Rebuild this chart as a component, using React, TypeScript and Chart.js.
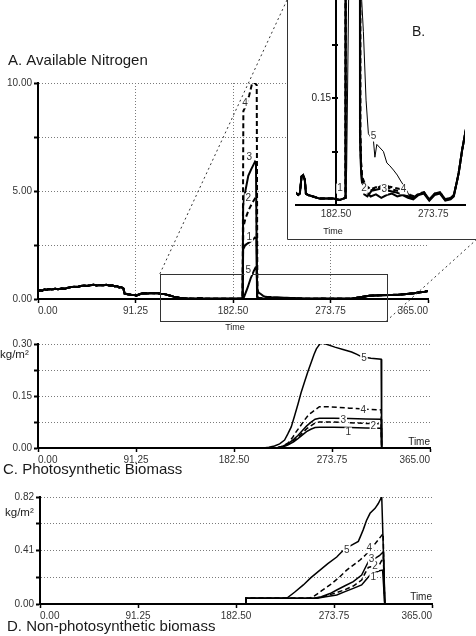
import React, { useEffect, useRef } from 'react';
import { Chart, registerables } from 'chart.js';

Chart.register(...registerables);
Chart.defaults.font.family = '"Liberation Sans", Arial, Helvetica, sans-serif';
Chart.defaults.color = '#333';

type Pt = [number, number];

// ---------- axes ----------
const timeTicks = [0, 91.25, 182.5, 273.75, 365];
const nitrogenTicks = [0, 2.5, 5, 7.5, 10];
const nitrogenLabeled = [0, 5, 10];
const insetTimeTicks = [182.5, 273.75];
const insetNitrogenTicks = [0.075, 0.15, 0.225];
const insetNitrogenLabeled = [0.15];
const photoTicks = [0, 0.075, 0.15, 0.225, 0.3];
const photoLabeled = [0, 0.15, 0.3];
const nonPhotoTicks = [0, 0.205, 0.41, 0.615, 0.82];
const nonPhotoLabeled = [0, 0.41, 0.82];
const seriesNames = ['1', '2', '3', '4', '5'];
const dashedSeries = [false, true, false, true, false];

// ---------- A. Available Nitrogen (time, value) ----------
const nitrogenEarly: Pt[] = [
  [0, 0.36], [2, 0.4], [4, 0.38], [6, 0.45], [8, 0.42], [10, 0.46], [13, 0.44], [16, 0.47], [19, 0.45],
  [22, 0.49], [25, 0.47], [28, 0.52], [31, 0.55], [34, 0.57], [37, 0.56], [40, 0.6], [43, 0.62], [46, 0.6],
  [49, 0.64], [52, 0.66], [55, 0.63], [58, 0.65], [61, 0.64], [64, 0.66], [67, 0.62], [70, 0.62], [72, 0.58],
  [74, 0.6], [76, 0.53], [78, 0.55], [80, 0.48], [81, 0.25], [84, 0.22], [87, 0.2], [90, 0.19], [92, 0.15],
  [94, 0.2], [97, 0.25], [100, 0.27], [103, 0.26], [106, 0.28], [109, 0.27], [112, 0.27], [115, 0.24],
  [118, 0.23], [121, 0.19], [124, 0.15], [127, 0.11], [130, 0.08], [133, 0.05], [136, 0.03], [140, 0.02],
];
const nitrogenPreSpike: Pt[] = [
  [145, 0.017], [147, 0.014], [148.6, 0.016], [150.2, 0.04], [151.7, 0.042], [153.3, 0.035], [154.3, 0.016],
  [156.4, 0.014], [161, 0.012], [167, 0.009], [174, 0.009], [180, 0.009], [186, 0.007], [189.4, 0.009], [191.5, 0.01],
];
const nitrogenSpike1: Pt[] = [[192, 2.3], [194, 2.5], [197, 2.6], [200, 2.7], [203, 2.85], [204.5, 2.8], [205.2, 0.1]];
const nitrogenSpike2: Pt[] = [[192.1, 3.3], [194, 3.7], [197, 4.1], [200, 4.4], [203, 4.65], [204.5, 4.6], [205.2, 0.1]];
const nitrogenSpike3: Pt[] = [[192, 4.3], [193.7, 4.9], [196.8, 5.7], [199.5, 6.0], [201.5, 6.2], [203.1, 6.36], [204, 6.3], [205, 0.1]];
const nitrogenSpike4: Pt[] = [[192.2, 8.7], [195, 9.0], [197.5, 9.4], [200.5, 10], [203, 10], [204.7, 9.9], [205.3, 0.1]];
const nitrogenSpike5: Pt[] = [[192.5, 0.05], [196, 0.5], [199, 0.95], [202, 1.3], [203.5, 1.45], [204.5, 1.4], [205.3, 0.45]];
const nitrogenAfter1: Pt[] = [
  [206, 0.05], [207, 0.03], [210, 0.02], [215, 0.012], [220, 0.015], [225, 0.01], [230, 0.014], [235, 0.016],
  [240, 0.012], [245, 0.014], [250, 0.01], [255, 0.008], [260, 0.014], [265, 0.016], [270, 0.006], [275, 0.014],
  [280, 0.016], [285, 0.006], [290, 0.008], [293, 0.012],
];
const nitrogenAfter2: Pt[] = [
  [206, 0.06], [207, 0.035], [210, 0.025], [215, 0.02], [220, 0.024], [225, 0.026], [230, 0.025], [235, 0.022],
  [240, 0.02], [245, 0.02], [250, 0.012], [255, 0.01], [260, 0.016], [265, 0.018], [270, 0.008], [275, 0.016],
  [280, 0.018], [285, 0.008], [290, 0.01], [293, 0.014],
];
const nitrogenAfter3: Pt[] = [
  [206, 0.05], [207, 0.03], [209, 0.015], [212, 0.012], [216, 0.02], [222, 0.022], [228, 0.024], [232, 0.02],
  [238, 0.018], [244, 0.015], [250, 0.012], [255, 0.01], [260, 0.015], [265, 0.017], [270, 0.007], [275, 0.015],
  [280, 0.017], [285, 0.007], [290, 0.009], [293, 0.013],
];
const nitrogenAfter4: Pt[] = [
  [206, 0.06], [207, 0.04], [210, 0.028], [215, 0.022], [220, 0.025], [228, 0.028], [232, 0.026], [238, 0.024],
  [244, 0.022], [248, 0.02], [252, 0.014], [256, 0.012], [262, 0.016], [265, 0.018], [270, 0.008], [275, 0.016],
  [280, 0.018], [285, 0.008], [290, 0.01], [293, 0.014],
];
const nitrogenAfter5: Pt[] = [
  [206.5, 0.29], [208.2, 0.243], [210.7, 0.147], [212.9, 0.1], [215, 0.095], [217.6, 0.091], [219, 0.067],
  [220.8, 0.085], [223.9, 0.08], [227, 0.075], [230.2, 0.059], [233, 0.055], [236.4, 0.049], [240, 0.042],
  [242.7, 0.035], [247.4, 0.024], [252.1, 0.011], [256, 0.012], [262, 0.016], [265, 0.018], [270, 0.008],
  [275, 0.016], [280, 0.017], [285, 0.008], [290, 0.01], [293, 0.014],
];
const nitrogenLate: Pt[] = [
  [295.5, 0.03], [297.6, 0.045], [300.8, 0.077], [302.9, 0.094], [306, 0.12], [310, 0.15], [320, 0.17],
  [329, 0.19], [337, 0.2], [345, 0.23], [352, 0.27], [357.5, 0.31], [362, 0.34], [365, 0.37],
];
const nitrogenSpikes = [nitrogenSpike1, nitrogenSpike2, nitrogenSpike3, nitrogenSpike4, nitrogenSpike5];
const nitrogenAfters = [nitrogenAfter1, nitrogenAfter2, nitrogenAfter3, nitrogenAfter4, nitrogenAfter5];
const nitrogenSeries: Pt[][] = nitrogenSpikes.map((spike, i) => [
  ...nitrogenEarly, ...nitrogenPreSpike, ...spike, ...nitrogenAfters[i], ...nitrogenLate,
]);
const nitrogenLabelAt: Pt[] = [[197.8, 2.88], [196.8, 4.66], [197.8, 6.56], [193.7, 9.06], [196.8, 1.34]];
const insetLabelAt: Pt[] = [[186.3, 0.023], [208.8, 0.023], [227.7, 0.022], [245.8, 0.022], [217.6, 0.096]];
// zoom window drawn on panel A (time range, value range)
const zoomWindow = { t0: 114, t1: 326, v0: -1.02, v1: 1.16 };

// ---------- C. Photosynthetic biomass (kg/m2) ----------
const photo1: Pt[] = [[0, 0], [222, 0], [228, 0.003], [233, 0.009], [238, 0.018], [242, 0.027], [246, 0.037], [250, 0.047], [254, 0.054], [258, 0.059], [262, 0.06], [275, 0.06], [290, 0.059], [305, 0.058], [319.5, 0.057], [320, 0], [365, 0]];
const photo2: Pt[] = [[0, 0], [222, 0], [228, 0.004], [233, 0.011], [238, 0.021], [242, 0.031], [246, 0.043], [250, 0.055], [254, 0.064], [258, 0.072], [262, 0.075], [275, 0.075], [290, 0.073], [305, 0.071], [319.5, 0.07], [320, 0], [365, 0]];
const photo3: Pt[] = [[0, 0], [222, 0], [228, 0.005], [233, 0.013], [238, 0.025], [242, 0.036], [246, 0.05], [250, 0.063], [254, 0.074], [258, 0.083], [262, 0.086], [275, 0.086], [290, 0.085], [305, 0.084], [319.5, 0.083], [320, 0], [365, 0]];
const photo4: Pt[] = [[0, 0], [222, 0], [228, 0.005], [233, 0.015], [237, 0.03], [240, 0.045], [244, 0.062], [248, 0.08], [252, 0.096], [255, 0.103], [259, 0.112], [262, 0.119], [270, 0.119], [280, 0.117], [290, 0.115], [300, 0.113], [310, 0.111], [319.5, 0.11], [320, 0], [365, 0]];
const photo5: Pt[] = [[0, 0], [210, 0], [215, 0.002], [220.2, 0.006], [225, 0.012], [229.6, 0.023], [232.5, 0.04], [235.8, 0.061], [239, 0.094], [242.1, 0.127], [245, 0.16], [248.3, 0.192], [251.5, 0.222], [254.6, 0.249], [257, 0.27], [259.2, 0.286], [261.5, 0.296], [263.3, 0.303], [268, 0.3], [276.4, 0.291], [284, 0.284], [292, 0.277], [297, 0.27], [301.4, 0.263], [310, 0.259], [319.5, 0.256], [320, 0], [365, 0]];
const photoSeries = [photo1, photo2, photo3, photo4, photo5];
const photoLabelAt: Pt[] = [[288.9, 0.045], [312.3, 0.063], [284.2, 0.08], [302.9, 0.108], [303.5, 0.26]];

// ---------- D. Non-photosynthetic biomass (kg/m2) ----------
const nonPhoto1: Pt[] = [[0, 0], [191.5, 0], [191.7, 0.044], [258, 0.044], [266, 0.055], [276.3, 0.069], [284, 0.095], [291.7, 0.12], [299.5, 0.146], [303, 0.18], [307.3, 0.222], [312, 0.24], [316, 0.255], [319, 0.26], [321, 0], [365, 0]];
const nonPhoto2: Pt[] = [[0, 0], [191.5, 0], [191.7, 0.044], [257, 0.044], [265, 0.06], [276.3, 0.087], [284, 0.11], [291.7, 0.138], [299.5, 0.184], [303, 0.24], [305.7, 0.28], [310, 0.29], [313, 0.27], [316, 0.3], [319.7, 0.36], [321, 0], [365, 0]];
const nonPhoto3: Pt[] = [[0, 0], [191.5, 0], [191.7, 0.044], [255, 0.044], [262, 0.055], [270, 0.08], [276.3, 0.107], [284, 0.14], [291.7, 0.171], [299.5, 0.222], [303, 0.28], [305.7, 0.324], [312, 0.35], [316, 0.37], [319.7, 0.4], [321, 0], [365, 0]];
const nonPhoto4: Pt[] = [[0, 0], [191.5, 0], [191.7, 0.044], [250, 0.044], [254.5, 0.056], [262, 0.1], [270, 0.146], [278, 0.2], [285.6, 0.26], [292, 0.3], [298, 0.337], [303, 0.375], [307.3, 0.414], [313.5, 0.477], [319.5, 0.54], [321, 0], [365, 0]];
const nonPhoto5: Pt[] = [[0, 0], [191.5, 0], [191.7, 0.044], [229.7, 0.044], [237, 0.09], [245.2, 0.146], [252, 0.2], [260.7, 0.26], [268, 0.31], [276.3, 0.36], [281, 0.4], [285.6, 0.43], [291, 0.455], [296.4, 0.48], [299, 0.53], [301, 0.57], [304, 0.64], [307.3, 0.695], [312, 0.733], [315, 0.77], [318.2, 0.822], [321.2, 0], [365, 0]];
const nonPhotoSeries = [nonPhoto1, nonPhoto2, nonPhoto3, nonPhoto4, nonPhoto5];
const nonPhotoLabelAt: Pt[] = [[310.3, 0.204], [311.9, 0.291], [308.8, 0.345], [306.6, 0.427], [285.6, 0.414]];

// ---------- helpers ----------
const FONT = '"Liberation Sans", Arial, Helvetica, sans-serif';
const GRID = '#7a7a7a';
const fmt2 = (v: number) => v.toFixed(2);

function lineDatasets(series: Pt[][], widths: number[]) {
  return series.map((s, i) => ({
    label: seriesNames[i],
    data: s.map(([x, y]) => ({ x, y })),
    borderColor: '#000',
    borderWidth: widths[i],
    borderDash: dashedSeries[i] ? [5, 3] : [],
    pointRadius: 0,
    fill: false,
    tension: 0,
  }));
}

function timeAxis(vGrid: boolean) {
  return {
    type: 'linear',
    min: 0,
    max: 365,
    afterBuildTicks: (s: any) => { s.ticks = timeTicks.map((value) => ({ value })); },
    afterFit: (s: any) => { s.height = 20; },
    ticks: {
      autoSkip: false, maxRotation: 0, minRotation: 0, align: 'inner', padding: 2,
      color: '#333', font: { size: 10 }, callback: (v: any) => fmt2(Number(v)),
    },
    grid: {
      drawOnChartArea: vGrid,
      color: (c: any) => (c.tick && (c.tick.value === 0 || c.tick.value === 365) ? 'rgba(0,0,0,0)' : GRID),
      lineWidth: 1, drawTicks: true, tickLength: 4, tickColor: '#000', tickWidth: 1.5,
    },
    border: { display: true, color: '#000', width: 2, dash: [1, 2] },
  };
}

function valueAxis(ticks: number[], labeled: number[], max: number) {
  return {
    type: 'linear',
    min: 0,
    max,
    afterBuildTicks: (s: any) => { s.ticks = ticks.map((value) => ({ value })); },
    afterFit: (s: any) => { s.width = 38; },
    ticks: {
      autoSkip: false, padding: 2, color: '#333', font: { size: 10 },
      callback: (v: any) => (labeled.includes(Number(v)) ? fmt2(Number(v)) : ''),
    },
    grid: {
      color: (c: any) => (c.tick && c.tick.value === 0 ? 'rgba(0,0,0,0)' : GRID),
      lineWidth: 1, drawTicks: true, tickLength: 4, tickColor: '#000', tickWidth: 2,
    },
    border: { display: true, color: '#000', width: 2, dash: [1, 2] },
  };
}

type TextItem = { text: string; x: number; y: number; align?: CanvasTextAlign; size?: number; bold?: boolean };

function drawTexts(ctx: CanvasRenderingContext2D, items: TextItem[]) {
  ctx.save();
  ctx.fillStyle = '#1a1a1a';
  ctx.textBaseline = 'middle';
  for (const it of items) {
    ctx.font = `${it.bold ? 'bold ' : ''}${it.size ?? 10}px ${FONT}`;
    ctx.textAlign = it.align ?? 'left';
    ctx.fillText(it.text, it.x, it.y);
  }
  ctx.restore();
}

function drawSeriesLabels(chart: any, positions: Pt[]) {
  const { ctx } = chart;
  const xs = chart.scales.x;
  const ys = chart.scales.y;
  ctx.save();
  ctx.font = `10px ${FONT}`;
  ctx.textAlign = 'center';
  ctx.textBaseline = 'middle';
  positions.forEach(([t, v], i) => {
    const px = xs.getPixelForValue(t);
    const py = ys.getPixelForValue(v);
    const w = ctx.measureText(seriesNames[i]).width + 2;
    ctx.fillStyle = '#fff';
    ctx.fillRect(px - w / 2, py - 5, w, 10);
    ctx.fillStyle = '#333';
    ctx.fillText(seriesNames[i], px, py);
  });
  ctx.restore();
}

const baseOptions = {
  responsive: false,
  animation: false,
  devicePixelRatio: 1,
  events: [],
  plugins: { legend: { display: false }, tooltip: { enabled: false }, title: { display: false } },
};

// panel placement on the page
const boxA = { left: 0, top: 0, width: 476, height: 336 };
const boxB = { left: 287, top: 0, width: 189, height: 240 };
const boxC = { left: 0, top: 336, width: 476, height: 144 };
const boxD = { left: 0, top: 480, width: 476, height: 156 };

function configA(): any {
  return {
    type: 'line',
    data: { datasets: lineDatasets(nitrogenSeries, [2, 2, 2, 2, 2]) },
    options: {
      ...baseOptions,
      layout: { padding: { left: 0, top: 83, right: 48, bottom: 17 } },
      scales: { x: timeAxis(true), y: valueAxis(nitrogenTicks, nitrogenLabeled, 10) },
    },
    plugins: [{
      id: 'decorA',
      afterDatasetsDraw(chart: any) {
        const { ctx } = chart;
        const xs = chart.scales.x;
        const ys = chart.scales.y;
        const l = xs.getPixelForValue(zoomWindow.t0);
        const r = xs.getPixelForValue(zoomWindow.t1);
        const t = ys.getPixelForValue(zoomWindow.v1);
        const b = ys.getPixelForValue(zoomWindow.v0);
        ctx.save();
        ctx.strokeStyle = '#333';
        ctx.lineWidth = 1;
        ctx.strokeRect(Math.round(l) + 0.5, Math.round(t) + 0.5, Math.round(r - l), Math.round(b - t));
        ctx.setLineDash([2, 3]);
        ctx.beginPath();
        ctx.moveTo(l, t);
        ctx.lineTo(boxB.left - boxA.left, boxB.top - boxA.top);
        ctx.moveTo(r, b);
        ctx.lineTo(boxB.left + boxB.width - boxA.left, boxB.top + boxB.height - boxA.top);
        ctx.stroke();
        ctx.restore();
        drawSeriesLabels(chart, nitrogenLabelAt);
      },
      afterDraw(chart: any) {
        drawTexts(chart.ctx, [
          { text: 'A. Available Nitrogen', x: 8, y: 61, size: 15 },
          { text: 'Time', x: 235, y: 328, align: 'center', size: 9 },
        ]);
      },
    }],
  };
}

function configB(): any {
  return {
    type: 'line',
    data: { datasets: lineDatasets(nitrogenSeries, [2, 2, 2, 2, 1]) },
    options: {
      ...baseOptions,
      layout: { padding: { left: 9, top: 0, right: 11, bottom: 15 } },
      scales: {
        x: {
          type: 'linear', min: 145, max: 303.5,
          afterBuildTicks: (s: any) => { s.ticks = insetTimeTicks.map((value) => ({ value })); },
          afterFit: (s: any) => { s.height = 20; },
          ticks: { autoSkip: false, maxRotation: 0, padding: 3, color: '#333', font: { size: 10 }, callback: (v: any) => fmt2(Number(v)) },
          grid: { display: false, drawTicks: false, tickLength: 0 },
          border: { display: true, color: '#000', width: 2 },
        },
        y: { type: 'linear', display: false, min: 0, max: 0.2875 },
      },
    },
    plugins: [{
      id: 'decorB',
      afterDatasetsDraw(chart: any) {
        const { ctx, chartArea } = chart;
        const xs = chart.scales.x;
        const ys = chart.scales.y;
        const ax = Math.round(xs.getPixelForValue(182.5));
        ctx.save();
        ctx.strokeStyle = '#000';
        ctx.lineWidth = 2;
        ctx.beginPath();
        ctx.moveTo(ax, chartArea.top);
        ctx.lineTo(ax, chartArea.bottom);
        for (const v of insetNitrogenTicks) {
          const py = Math.round(ys.getPixelForValue(v));
          ctx.moveTo(ax - 4, py);
          ctx.lineTo(ax + 2, py);
        }
        ctx.stroke();
        ctx.restore();
        drawTexts(ctx, insetNitrogenLabeled.map((v) => ({
          text: fmt2(v), x: ax - 5, y: ys.getPixelForValue(v), align: 'right' as CanvasTextAlign, size: 10,
        })));
        drawSeriesLabels(chart, insetLabelAt);
      },
      afterDraw(chart: any) {
        const { ctx } = chart;
        ctx.save();
        ctx.strokeStyle = '#333';
        ctx.lineWidth = 1;
        ctx.beginPath();
        ctx.moveTo(0.5, 0);
        ctx.lineTo(0.5, boxB.height - 0.5);
        ctx.lineTo(boxB.width, boxB.height - 0.5);
        ctx.stroke();
        ctx.restore();
        drawTexts(ctx, [
          { text: 'B.', x: 125, y: 32, size: 14 },
          { text: 'Time', x: 46, y: 232, align: 'center', size: 9 },
        ]);
      },
    }],
  };
}

function configC(): any {
  return {
    type: 'line',
    data: { datasets: lineDatasets(photoSeries, [1.5, 1.5, 1.5, 1.5, 1.5]) },
    options: {
      ...baseOptions,
      layout: { padding: { left: 0, top: 6, right: 46, bottom: 12 } },
      scales: { x: timeAxis(false), y: valueAxis(photoTicks, photoLabeled, 0.3) },
    },
    plugins: [{
      id: 'decorC',
      afterDatasetsDraw(chart: any) { drawSeriesLabels(chart, photoLabelAt); },
      afterDraw(chart: any) {
        drawTexts(chart.ctx, [
          { text: 'kg/m²', x: 0, y: 19, size: 11.5 },
          { text: 'Time', x: 430, y: 106, align: 'right', size: 10 },
          { text: 'C. Photosynthetic Biomass', x: 3, y: 134, size: 15 },
        ]);
      },
    }],
  };
}

function configD(): any {
  return {
    type: 'line',
    data: { datasets: lineDatasets(nonPhotoSeries, [1.5, 1.5, 1.5, 1.5, 1.5]) },
    options: {
      ...baseOptions,
      layout: { padding: { left: 2, top: 17, right: 44, bottom: 12 } },
      scales: { x: timeAxis(false), y: valueAxis(nonPhotoTicks, nonPhotoLabeled, 0.82) },
    },
    plugins: [{
      id: 'decorD',
      afterDatasetsDraw(chart: any) { drawSeriesLabels(chart, nonPhotoLabelAt); },
      afterDraw(chart: any) {
        drawTexts(chart.ctx, [
          { text: 'kg/m²', x: 5, y: 33, size: 11.5 },
          { text: 'Time', x: 432, y: 117, align: 'right', size: 10 },
          { text: 'D. Non-photosynthetic biomass', x: 7, y: 147, size: 15 },
        ]);
      },
    }],
  };
}

type Box = { left: number; top: number; width: number; height: number };

function ChartCanvas({ box, build, z }: { box: Box; build: () => any; z: number }) {
  const ref = useRef<HTMLCanvasElement>(null);
  useEffect(() => {
    const chart = new Chart(ref.current as HTMLCanvasElement, build());
    return () => chart.destroy();
  }, []);
  return (
    <div style={{ position: 'absolute', left: box.left, top: box.top, width: box.width, height: box.height, background: '#fff', zIndex: z }}>
      <canvas ref={ref} width={box.width} height={box.height} style={{ display: 'block', width: box.width, height: box.height }} />
    </div>
  );
}

export default function App() {
  return (
    <div style={{ position: 'absolute', left: 0, top: 0, width: 476, height: 636, background: '#fff', overflow: 'hidden' }}>
      <ChartCanvas box={boxA} build={configA} z={1} />
      <ChartCanvas box={boxC} build={configC} z={1} />
      <ChartCanvas box={boxD} build={configD} z={1} />
      <ChartCanvas box={boxB} build={configB} z={2} />
    </div>
  );
}
